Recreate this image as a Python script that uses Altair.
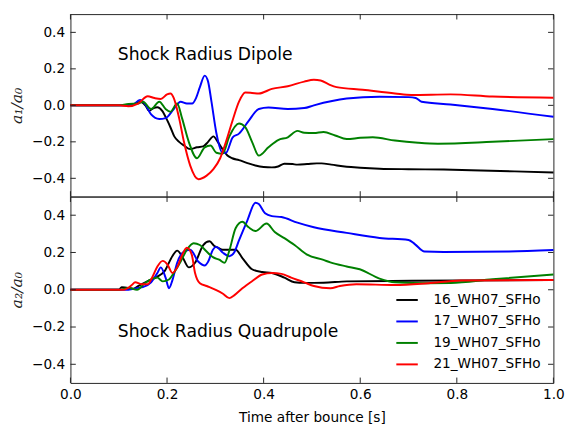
import altair as alt
import pandas as pd

# ---------------- data ----------------
series_names = ["16_WH07_SFHo", "17_WH07_SFHo", "19_WH07_SFHo", "21_WH07_SFHo"]
series_colors = ["#000000", "#0000ff", "#008000", "#ff0000"]

# Dipole (a1/a0)
dip_x_16 = [0, 0.1, 0.13, 0.145, 0.155, 0.163, 0.172, 0.18, 0.19, 0.2, 0.207, 0.215, 0.225, 0.235, 0.248, 0.262, 0.275, 0.285, 0.296, 0.305, 0.315, 0.325, 0.335, 0.349, 0.365, 0.383, 0.4, 0.417, 0.43, 0.443, 0.46, 0.47, 0.49, 0.51, 0.52, 0.54, 0.572, 0.6, 0.64, 0.7, 0.773, 0.85, 0.92, 1.0]
dip_y_16 = [0, 0, 0.005, 0.02, 0.0, -0.03, -0.015, -0.01, -0.03, -0.08, -0.12, -0.17, -0.2, -0.22, -0.24, -0.23, -0.225, -0.2, -0.17, -0.2, -0.24, -0.275, -0.29, -0.3, -0.315, -0.33, -0.338, -0.34, -0.335, -0.32, -0.322, -0.325, -0.322, -0.318, -0.318, -0.325, -0.337, -0.342, -0.347, -0.35, -0.352, -0.357, -0.362, -0.368]

dip_x_17 = [0, 0.1, 0.127, 0.144, 0.154, 0.167, 0.184, 0.197, 0.214, 0.228, 0.241, 0.252, 0.26, 0.268, 0.278, 0.285, 0.292, 0.302, 0.315, 0.322, 0.336, 0.349, 0.369, 0.39, 0.41, 0.45, 0.484, 0.504, 0.572, 0.64, 0.7, 0.715, 0.727, 0.787, 0.874, 1.0]
dip_y_17 = [0, 0, 0.0, 0.03, 0.01, -0.05, -0.075, -0.07, -0.02, 0.02, 0.01, 0.01, 0.04, 0.1, 0.163, 0.13, 0.02, -0.15, -0.26, -0.26, -0.175, -0.155, -0.085, -0.02, -0.012, -0.02, -0.015, 0.0, 0.037, 0.047, 0.045, 0.04, 0.02, 0.005, -0.02, -0.063]

dip_x_19 = [0, 0.1, 0.12, 0.14, 0.15, 0.167, 0.184, 0.197, 0.207, 0.221, 0.231, 0.245, 0.262, 0.278, 0.29, 0.302, 0.315, 0.329, 0.349, 0.362, 0.376, 0.39, 0.41, 0.43, 0.45, 0.47, 0.484, 0.504, 0.524, 0.548, 0.572, 0.6, 0.626, 0.672, 0.72, 0.761, 0.874, 1.0]
dip_y_19 = [0, 0, 0.008, 0.01, 0.02, -0.02, 0.02, -0.02, -0.035, 0.01, -0.07, -0.2, -0.29, -0.23, -0.22, -0.26, -0.265, -0.17, -0.1, -0.12, -0.2, -0.275, -0.23, -0.19, -0.175, -0.14, -0.15, -0.152, -0.146, -0.165, -0.185, -0.178, -0.175, -0.193, -0.205, -0.21, -0.2, -0.185]

dip_x_21 = [0, 0.1, 0.12, 0.14, 0.16, 0.174, 0.187, 0.2, 0.207, 0.214, 0.225, 0.235, 0.248, 0.265, 0.282, 0.296, 0.31, 0.322, 0.336, 0.349, 0.362, 0.376, 0.39, 0.417, 0.45, 0.484, 0.504, 0.518, 0.535, 0.551, 0.605, 0.672, 0.706, 0.787, 0.874, 1.0]
dip_y_21 = [0, 0, -0.005, 0.01, 0.05, 0.04, 0.035, 0.06, 0.065, 0.04, -0.07, -0.2, -0.33, -0.405, -0.385, -0.35, -0.29, -0.2, -0.08, 0.02, 0.07, 0.068, 0.065, 0.09, 0.105, 0.13, 0.14, 0.136, 0.115, 0.1, 0.085, 0.065, 0.057, 0.06, 0.048, 0.042]

# Quadrupole (a2/a0)
quad_x_16 = [0, 0.1, 0.106, 0.12, 0.13, 0.14, 0.16, 0.18, 0.195, 0.211, 0.221, 0.231, 0.245, 0.258, 0.275, 0.288, 0.298, 0.306, 0.315, 0.342, 0.356, 0.376, 0.397, 0.417, 0.443, 0.464, 0.484, 0.524, 0.572, 0.706, 1.0]
quad_y_16 = [0, 0, 0.013, 0.01, 0.005, 0.02, 0.046, 0.07, 0.1, 0.18, 0.21, 0.18, 0.12, 0.145, 0.24, 0.26, 0.235, 0.225, 0.215, 0.215, 0.17, 0.11, 0.095, 0.09, 0.065, 0.04, 0.037, 0.038, 0.045, 0.048, 0.052]

quad_x_17 = [0, 0.12, 0.14, 0.15, 0.167, 0.18, 0.187, 0.197, 0.204, 0.211, 0.221, 0.235, 0.248, 0.265, 0.278, 0.285, 0.295, 0.302, 0.315, 0.329, 0.339, 0.349, 0.366, 0.383, 0.39, 0.403, 0.417, 0.437, 0.47, 0.504, 0.572, 0.64, 0.7, 0.713, 0.733, 0.773, 0.908, 1.0]
quad_y_17 = [0, 0, 0.01, 0.015, 0.04, 0.09, 0.12, 0.065, 0.008, 0.05, 0.145, 0.205, 0.215, 0.15, 0.13, 0.15, 0.215, 0.23, 0.2, 0.18, 0.2, 0.265, 0.37, 0.467, 0.46, 0.41, 0.395, 0.39, 0.36, 0.335, 0.305, 0.278, 0.267, 0.245, 0.205, 0.203, 0.205, 0.213]

quad_x_19 = [0, 0.1, 0.12, 0.138, 0.154, 0.17, 0.18, 0.191, 0.204, 0.214, 0.228, 0.241, 0.255, 0.268, 0.282, 0.295, 0.309, 0.319, 0.329, 0.342, 0.356, 0.369, 0.383, 0.406, 0.423, 0.443, 0.464, 0.49, 0.524, 0.538, 0.572, 0.599, 0.64, 0.672, 0.741, 0.787, 0.874, 1.0]
quad_y_19 = [0, 0, 0.01, 0.0, 0.035, 0.06, 0.065, 0.045, 0.055, 0.09, 0.15, 0.215, 0.25, 0.24, 0.205, 0.175, 0.16, 0.145, 0.21, 0.33, 0.365, 0.335, 0.315, 0.355, 0.31, 0.277, 0.24, 0.188, 0.16, 0.147, 0.125, 0.11, 0.06, 0.04, 0.035, 0.036, 0.056, 0.082]

quad_x_21 = [0, 0.11, 0.127, 0.134, 0.147, 0.16, 0.17, 0.18, 0.191, 0.201, 0.211, 0.221, 0.231, 0.241, 0.251, 0.258, 0.268, 0.282, 0.302, 0.315, 0.329, 0.339, 0.356, 0.376, 0.397, 0.417, 0.437, 0.457, 0.484, 0.504, 0.538, 0.558, 0.592, 0.672, 0.741, 0.808, 1.0]
quad_y_21 = [0, 0, 0.025, 0.04, 0.03, 0.03, 0.07, 0.125, 0.155, 0.135, 0.09, 0.12, 0.185, 0.225, 0.19, 0.09, 0.035, 0.02, -0.002, -0.02, -0.045, -0.03, 0.008, 0.046, 0.082, 0.09, 0.085, 0.065, 0.04, 0.02, 0.008, 0.02, 0.03, 0.025, 0.035, 0.05, 0.052]

x_ticks = [0.0, 0.2, 0.4, 0.6, 0.8, 1.0]
y_ticks = [-0.4, -0.2, 0.0, 0.2, 0.4]
panel_titles = ["Shock Radius Dipole", "Shock Radius Quadrupole"]
title_x = [0.098, 0.098]
title_y = [0.249, -0.254]
y_titles = ["a\u2081/a\u2080", "a\u2082/a\u2080"]
x_title = "Time after bounce [s]"

# ---------------- build tables ----------------
def long_df(xs, ys):
    rows = []
    for name, xv, yv in zip(series_names, xs, ys):
        for a, b in zip(xv, yv):
            rows.append({"t": a, "v": b, "model": name})
    return pd.DataFrame(rows)

dip_df = long_df([dip_x_16, dip_x_17, dip_x_19, dip_x_21], [dip_y_16, dip_y_17, dip_y_19, dip_y_21])
quad_df = long_df([quad_x_16, quad_x_17, quad_x_19, quad_x_21], [quad_y_16, quad_y_17, quad_y_19, quad_y_21])

W = 495
H_TOP, H_BOT = 187, 191
TL = 5.5
FRAME = "#222222"
FONT = "DejaVu Sans"

xscale = alt.Scale(domain=[0, 1], nice=False, zero=False)
yscale = alt.Scale(domain=[-0.5, 0.5], nice=False, zero=False)
cscale = alt.Scale(domain=series_names, range=series_colors)

xt_df = pd.DataFrame({"tick": x_ticks})
yt_df = pd.DataFrame({"tick": y_ticks})


def panel(df, idx, show_x, legend, H):
    if show_x:
        xaxis = alt.Axis(values=x_ticks, format=".1f", labelFontSize=14, labelFont=FONT,
                         labelColor="#000", ticks=False, domain=False, grid=False,
                         labelFlush=False,
                         title=x_title, titleFontSize=14, titleFont=FONT,
                         titleFontWeight="normal", titleColor="#000",
                         labelPadding=5, titlePadding=10)
    else:
        xaxis = None
    yaxis = alt.Axis(values=y_ticks, format=".1f", labelFontSize=14, labelFont=FONT,
                     labelColor="#000", ticks=False, domain=False, grid=False,
                     title=y_titles[idx], titleFont="DejaVu Serif", titleFontStyle="italic",
                     titleFontWeight="normal", titleFontSize=16, titleColor="#222",
                     labelPadding=6, titlePadding=7)
    lines = alt.Chart(df).mark_line(strokeWidth=2, interpolate="monotone").encode(
        x=alt.X("t:Q", scale=xscale, axis=xaxis),
        y=alt.Y("v:Q", scale=yscale, axis=yaxis),
        color=alt.Color("model:N", scale=cscale, legend=legend, sort=series_names),
    )
    tdf = pd.DataFrame({"x": [title_x[idx]], "y": [title_y[idx]], "label": [panel_titles[idx]]})
    text = alt.Chart(tdf).mark_text(align="left", baseline="alphabetic", fontSize=17.6,
                                    font=FONT, color="#000").encode(
        x=alt.X("x:Q", scale=xscale), y=alt.Y("y:Q", scale=yscale), text="label:N")
    tick_b = alt.Chart(xt_df).mark_rule(color=FRAME, strokeWidth=1).encode(
        x=alt.X("tick:Q", scale=xscale), y=alt.value(H), y2=alt.value(H - TL))
    tick_t = alt.Chart(xt_df).mark_rule(color=FRAME, strokeWidth=1).encode(
        x=alt.X("tick:Q", scale=xscale), y=alt.value(0), y2=alt.value(TL))
    tick_l = alt.Chart(yt_df).mark_rule(color=FRAME, strokeWidth=1).encode(
        y=alt.Y("tick:Q", scale=yscale), x=alt.value(0), x2=alt.value(TL))
    tick_r = alt.Chart(yt_df).mark_rule(color=FRAME, strokeWidth=1).encode(
        y=alt.Y("tick:Q", scale=yscale), x=alt.value(W), x2=alt.value(W - TL))
    return alt.layer(lines, text, tick_b, tick_t, tick_l, tick_r).properties(width=W, height=H)


legend = alt.Legend(title=None, orient="none", legendX=333, legendY=94,
                    symbolType="stroke", symbolStrokeWidth=2, symbolSize=484,
                    labelFontSize=14, labelFont=FONT, labelColor="#000",
                    rowPadding=3, labelOffset=15, padding=0)

top = panel(dip_df, 0, False, None, H_TOP)
bottom = panel(quad_df, 1, True, legend, H_BOT)

chart = (
    alt.vconcat(top, bottom, spacing=0, bounds="flush")
    .resolve_legend(color="independent")
    .properties(padding={"left": 0, "top": 0, "right": 5, "bottom": 0})
    .configure(font=FONT, background="white")
    .configure_view(stroke=FRAME, strokeWidth=1)
)

chart.save("out.html", embed_options={"renderer": "svg", "actions": False})
